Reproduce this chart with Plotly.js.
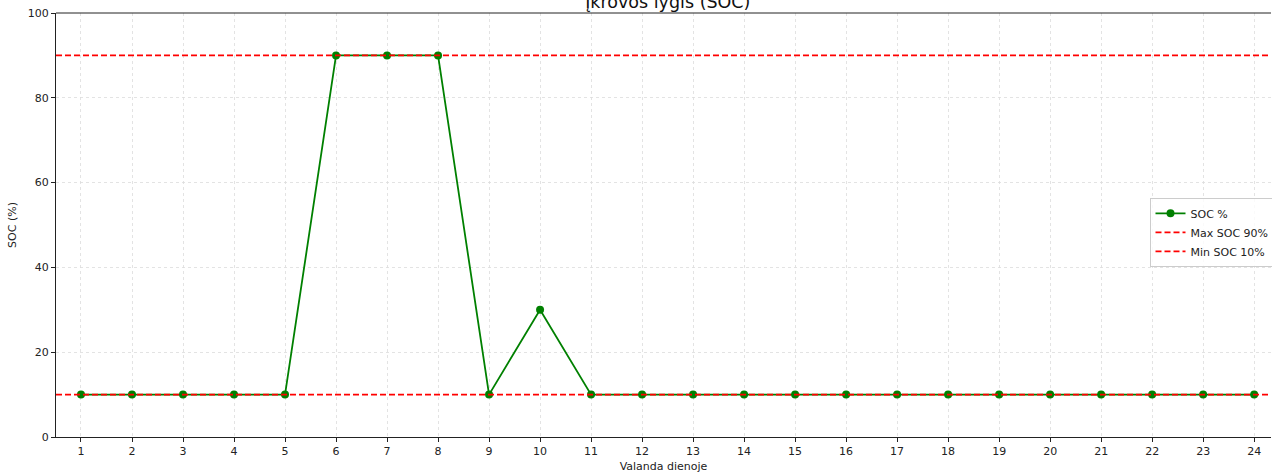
<!DOCTYPE html>
<html><head><meta charset="utf-8">
<script src="https://cdn.plot.ly/plotly-3.0.1.min.js"></script>
<style>body{margin:0;padding:0;background:#fff}#chart{width:1272px;height:473px}</style>
</head><body><div id="chart"></div>
<script>
const hours = [1,2,3,4,5,6,7,8,9,10,11,12,13,14,15,16,17,18,19,20,21,22,23,24];
const soc = [10,10,10,10,10,90,90,90,10,30,10,10,10,10,10,10,10,10,10,10,10,10,10,10];
const maxSoc = 90;
const minSoc = 10;
const xRange = [0.51, 24.33];

const traces = [
  {x: hours, y: soc, mode: 'lines+markers', name: 'SOC %',
   line: {color: '#008000', width: 1.8}, marker: {color: '#008000', size: 8}},
  {x: xRange, y: [maxSoc, maxSoc], mode: 'lines', name: 'Max SOC 90%',
   line: {color: '#ff0000', width: 1.8, dash: '6px,3px'}},
  {x: xRange, y: [minSoc, minSoc], mode: 'lines', name: 'Min SOC 10%',
   line: {color: '#ff0000', width: 1.8, dash: '6px,3px'}}
];

const layout = {
  width: 1272, height: 473,
  margin: {l: 56, r: 1, t: 13, b: 36, autoexpand: false},
  paper_bgcolor: '#fff', plot_bgcolor: '#fff',
  font: {family: 'DejaVu Sans', size: 11, color: '#222'},
  title: {text: 'Įkrovos lygis (SOC)', font: {family: 'DejaVu Sans', size: 17.5, color: '#111'},
          x: 0.525, xanchor: 'center', y: 1 - 2/473, yanchor: 'middle', yref: 'container'},
  xaxis: {range: xRange, tickvals: hours, ticktext: hours.map(String), automargin: false,
          showgrid: true, gridcolor: '#dcdcdc', griddash: 'dot', gridwidth: 0.8,
          showline: true, linecolor: '#222', linewidth: 1, mirror: false,
          ticks: 'outside', ticklen: 4, tickcolor: '#222', zeroline: false,
          tickfont: {size: 11},
          title: {text: 'Valanda dienoje', font: {size: 11}, standoff: 6}},
  yaxis: {range: [0, 100], tickvals: [0,20,40,60,80,100], automargin: false,
          showgrid: true, gridcolor: '#dcdcdc', griddash: 'dot', gridwidth: 0.8,
          showline: true, linecolor: '#222', linewidth: 1,
          ticks: 'outside', ticklen: 4, tickcolor: '#222', zeroline: false,
          tickfont: {size: 11},
          title: {text: 'SOC (%)', font: {size: 11}, standoff: 8}},
  shapes: [{type: 'line', xref: 'paper', yref: 'paper', x0: 0, x1: 1, y0: 1, y1: 1,
            line: {color: '#222', width: 1}}],
  legend: {x: 0.9, y: 0.564, xanchor: 'left', yanchor: 'top',
           bgcolor: 'rgba(255,255,255,0.8)', bordercolor: '#cccccc', borderwidth: 1,
           font: {size: 11}, tracegroupgap: 0, itemwidth: 30},
  showlegend: true
};
Plotly.newPlot('chart', traces, layout, {displayModeBar: false, staticPlot: true});
</script></body></html>
